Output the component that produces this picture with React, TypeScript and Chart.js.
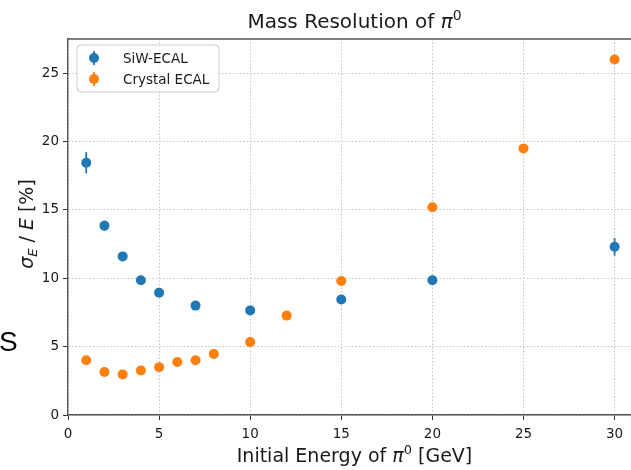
import React, { useEffect, useRef } from "react";
import { Chart, registerables } from "chart.js";

Chart.register(...registerables);

// ---- data ----
const siwEnergy = [1, 2, 3, 4, 5, 7, 10, 15, 20, 30];
const siwRes = [18.45, 13.85, 11.6, 9.85, 8.95, 8.0, 7.65, 8.45, 9.85, 12.3];
const siwErr = [0.78, 0.37, 0.2, 0.2, 0.2, 0.2, 0.25, 0.25, 0.25, 0.65];

const crystalEnergy = [1, 2, 3, 4, 5, 6, 7, 8, 10, 12, 15, 20, 25, 30];
const crystalRes = [4.0, 3.15, 2.97, 3.25, 3.5, 3.87, 4.0, 4.47, 5.33, 7.27, 9.8, 15.2, 19.5, 26.0];
const crystalErr = [0.1, 0.1, 0.1, 0.1, 0.1, 0.1, 0.1, 0.1, 0.1, 0.1, 0.15, 0.2, 0.2, 0.25];

const xTicks = [0, 5, 10, 15, 20, 25, 30];
const yTicks = [0, 5, 10, 15, 20, 25];
const seriesLabels = ["SiW-ECAL", "Crystal ECAL"];
const seriesColors = ["#1f77b4", "#ff7f0e"];

const FONT = "'DejaVu Sans', sans-serif";

type Seg = { t: string; size: number; italic?: boolean; dy?: number };

function segFont(s: Seg) {
  return `${s.italic ? "italic " : ""}${s.size}px ${FONT}`;
}

function drawRich(ctx: CanvasRenderingContext2D, segs: Seg[], x: number, y: number) {
  let w = 0;
  for (const s of segs) {
    ctx.font = segFont(s);
    w += ctx.measureText(s.t).width;
  }
  let cx = x - w / 2;
  ctx.textAlign = "left";
  ctx.textBaseline = "alphabetic";
  for (const s of segs) {
    ctx.font = segFont(s);
    ctx.fillText(s.t, cx, y + (s.dy || 0));
    cx += ctx.measureText(s.t).width;
  }
}

const errorBarPlugin = {
  id: "errorBars",
  beforeDatasetsDraw(chart: any) {
    const ctx = chart.ctx;
    const xs = chart.scales.x;
    const ys = chart.scales.y;
    const sets = [
      { e: siwEnergy, v: siwRes, err: siwErr, c: seriesColors[0] },
      { e: crystalEnergy, v: crystalRes, err: crystalErr, c: seriesColors[1] },
    ];
    ctx.save();
    ctx.lineWidth = 1.8;
    for (const s of sets) {
      ctx.strokeStyle = s.c;
      s.e.forEach((x, i) => {
        const px = xs.getPixelForValue(x);
        ctx.beginPath();
        ctx.moveTo(px, ys.getPixelForValue(s.v[i] - s.err[i]));
        ctx.lineTo(px, ys.getPixelForValue(s.v[i] + s.err[i]));
        ctx.stroke();
      });
    }
    ctx.restore();
  },
};

const decorPlugin = {
  id: "decor",
  afterDraw(chart: any) {
    const ctx: CanvasRenderingContext2D = chart.ctx;
    const a = chart.chartArea;
    ctx.save();
    // top spine
    ctx.strokeStyle = "#555555";
    ctx.lineWidth = 1.4;
    ctx.beginPath();
    ctx.moveTo(a.left, a.top);
    ctx.lineTo(a.right, a.top);
    ctx.stroke();

    ctx.fillStyle = "#1a1a1a";
    // title
    drawRich(
      ctx,
      [
        { t: "Mass Resolution of ", size: 20 },
        { t: "π", size: 20, italic: true },
        { t: "0", size: 14, dy: -8 },
      ],
      (a.left + a.right) / 2,
      28
    );
    // x label
    drawRich(
      ctx,
      [
        { t: "Initial Energy of ", size: 19 },
        { t: "π", size: 19, italic: true },
        { t: "0", size: 13, dy: -8 },
        { t: " [GeV]", size: 19 },
      ],
      (a.left + a.right) / 2,
      462
    );
    // y label
    ctx.save();
    ctx.translate(33, (a.top + a.bottom) / 2 - 3);
    ctx.rotate(-Math.PI / 2);
    drawRich(
      ctx,
      [
        { t: "σ", size: 19, italic: true },
        { t: "E", size: 13, italic: true, dy: 4 },
        { t: " / ", size: 19 },
        { t: "E", size: 19, italic: true },
        { t: " [%]", size: 19 },
      ],
      0,
      0
    );
    ctx.restore();

    // stray letter from source slide
    ctx.fillStyle = "#000000";
    ctx.font = "28px 'Liberation Sans', sans-serif";
    ctx.textAlign = "left";
    ctx.textBaseline = "alphabetic";
    ctx.fillText("S", -1, 351);

    // legend
    const lx = 77, ly = 45, lw = 142, lh = 47, r = 4;
    ctx.beginPath();
    ctx.moveTo(lx + r, ly);
    ctx.lineTo(lx + lw - r, ly);
    ctx.arcTo(lx + lw, ly, lx + lw, ly + r, r);
    ctx.lineTo(lx + lw, ly + lh - r);
    ctx.arcTo(lx + lw, ly + lh, lx + lw - r, ly + lh, r);
    ctx.lineTo(lx + r, ly + lh);
    ctx.arcTo(lx, ly + lh, lx, ly + lh - r, r);
    ctx.lineTo(lx, ly + r);
    ctx.arcTo(lx, ly, lx + r, ly, r);
    ctx.closePath();
    ctx.fillStyle = "rgba(255,255,255,0.8)";
    ctx.fill();
    ctx.strokeStyle = "#cccccc";
    ctx.lineWidth = 1;
    ctx.stroke();

    seriesLabels.forEach((lab, i) => {
      const cy = 58 + i * 21;
      ctx.strokeStyle = seriesColors[i];
      ctx.fillStyle = seriesColors[i];
      ctx.lineWidth = 1.8;
      ctx.beginPath();
      ctx.moveTo(94, cy - 7);
      ctx.lineTo(94, cy + 7);
      ctx.stroke();
      ctx.beginPath();
      ctx.arc(94, cy, 5, 0, Math.PI * 2);
      ctx.fill();
      ctx.fillStyle = "#1a1a1a";
      ctx.font = `13.5px ${FONT}`;
      ctx.textBaseline = "middle";
      ctx.fillText(lab, 123, cy + 1);
    });
    ctx.restore();
  },
};

export default function App() {
  const ref = useRef<HTMLCanvasElement | null>(null);

  useEffect(() => {
    if (!ref.current) return;
    Chart.defaults.font.family = FONT;
    const gridOpts = {
      color: "#c4c4c4",
      lineWidth: 1,
      tickBorderDash: [],
      tickColor: "#333333",
      tickWidth: 1,
      tickLength: 5,
      drawTicks: true,
    };
    const borderOpts = { display: true, color: "#555555", width: 1.4, dash: [1.5, 2] };
    const chart = new Chart(ref.current, {
      type: "scatter",
      data: {
        datasets: [
          {
            label: seriesLabels[0],
            data: siwEnergy.map((x, i) => ({ x, y: siwRes[i] })),
            backgroundColor: seriesColors[0],
            borderColor: seriesColors[0],
            pointRadius: 5,
            pointBorderWidth: 0,
            order: 1,
          },
          {
            label: seriesLabels[1],
            data: crystalEnergy.map((x, i) => ({ x, y: crystalRes[i] })),
            backgroundColor: seriesColors[1],
            borderColor: seriesColors[1],
            pointRadius: 5,
            pointBorderWidth: 0,
            order: 0,
          },
        ],
      },
      options: {
        responsive: false,
        animation: false,
        devicePixelRatio: 1,
        layout: { padding: { left: 0, top: 39, right: 19, bottom: 0 } },
        plugins: {
          legend: { display: false },
          title: { display: false },
          tooltip: { enabled: false },
        },
        scales: {
          x: {
            type: "linear",
            min: 0,
            max: 31.45,
            afterBuildTicks: (s: any) => {
              s.ticks = xTicks.map((v) => ({ value: v }));
            },
            afterFit: (s: any) => {
              s.height = 55;
            },
            ticks: {
              color: "#1a1a1a",
              font: { size: 13.5 },
              padding: 6,
              maxRotation: 0,
              autoSkip: false,
            },
            grid: gridOpts,
            border: borderOpts,
          },
          y: {
            type: "linear",
            min: 0,
            max: 27.5,
            afterBuildTicks: (s: any) => {
              s.ticks = yTicks.map((v) => ({ value: v }));
            },
            afterFit: (s: any) => {
              s.width = 68;
            },
            ticks: {
              color: "#1a1a1a",
              font: { size: 13.5 },
              padding: 4,
              autoSkip: false,
            },
            grid: gridOpts,
            border: borderOpts,
          },
        },
      },
      plugins: [errorBarPlugin, decorPlugin],
    } as any);
    return () => chart.destroy();
  }, []);

  return (
    <div
      style={{
        position: "absolute",
        left: 0,
        top: 0,
        width: 631,
        height: 470,
        overflow: "hidden",
        background: "#ffffff",
      }}
    >
      <canvas ref={ref} width={660} height={470} style={{ display: "block" }} />
    </div>
  );
}
